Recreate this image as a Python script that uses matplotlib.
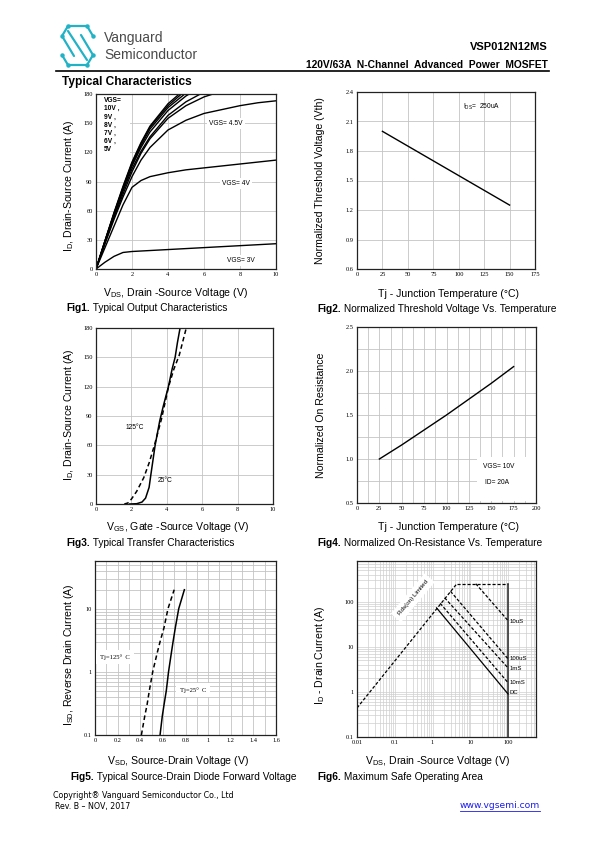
import matplotlib
matplotlib.use("Agg")
import matplotlib.pyplot as plt
from matplotlib.patches import Rectangle
from matplotlib.ticker import FixedLocator, FixedFormatter, LogLocator, NullFormatter

plt.rcParams["font.family"] = ["Liberation Sans", "DejaVu Sans"]
plt.rcParams["mathtext.fontset"] = "custom"
plt.rcParams["mathtext.rm"] = "Liberation Sans"
plt.rcParams["mathtext.default"] = "regular"

W, H = 595, 842

# ---- Fig1: output characteristics ----
vds_1 = [0, 0.5, 1, 1.5, 2, 2.5, 3, 4, 5, 6, 7, 8, 9, 10]
id_vgs = {
    "10V": [0, 29, 58, 85, 110, 130, 147, 170, 186, 198, 207, 214, 220, 225],
    "9V": [0, 29, 57, 84, 109, 129, 146, 168, 184, 196, 205, 212, 218, 223],
    "8V": [0, 29, 57, 83, 108, 127, 144, 166, 181, 192, 200, 207, 212, 216],
    "7V": [0, 28, 56, 82, 106, 125, 141, 163, 178, 189, 197, 203, 208, 212],
    "6V": [0, 28, 55, 80, 103, 121, 136, 158, 172, 182, 189, 195, 200, 204],
    "5V": [0, 27, 53, 77, 100, 119, 134, 155, 168, 177, 183, 188, 192, 195],
    "4.5V": [0, 26, 51, 74, 95, 112, 125, 143, 153, 160, 164, 168, 171, 173],
    "4V": [0, 22, 44, 66, 84, 91, 95, 99, 102, 104, 106, 108, 110, 112],
    "3V": [0, 7, 13, 17, 18, 18.5, 19, 20, 21, 22, 23, 24, 25, 26],
}

# ---- Fig2: threshold voltage vs temperature ----
tj_2 = [25, 150]
vth_2 = [2.0, 1.25]

# ---- Fig3: transfer characteristics ----
vgs_25 = [1.9, 2.3, 2.6, 2.8, 3.0, 3.1, 3.34, 3.6, 3.8, 4.09, 4.3, 4.47, 4.6, 4.75]
id_25 = [0, 0.3, 2, 6, 17, 30, 60, 85, 100, 120, 138, 150, 165, 180]
vgs_125 = [1.6, 1.8, 2.0, 2.3, 2.7, 3.0, 3.3, 3.7, 4.1, 4.4, 4.7, 4.9, 5.1]
id_125 = [0, 1, 5, 13, 27, 42, 60, 87, 120, 138, 152, 166, 180]

# ---- Fig4: on-resistance vs temperature ----
tj_4 = [25, 50, 75, 100, 125, 150, 175]
ron_4 = [1.0, 1.16, 1.33, 1.5, 1.68, 1.86, 2.05]

# ---- Fig5: body diode forward voltage ----
isd_5 = [0.1, 0.2, 0.3, 0.5, 1, 2, 3, 5, 10, 20]
vsd_125 = [0.41, 0.44, 0.46, 0.48, 0.51, 0.55, 0.575, 0.61, 0.645, 0.70]
vsd_25 = [0.575, 0.595, 0.61, 0.63, 0.65, 0.675, 0.69, 0.71, 0.74, 0.79]

# ---- Fig6: safe operating area ----
rds_v = [0.01, 4.4]
rds_i = [0.44, 250]
lim_v = [4.4, 100]
lim_i = [250, 250]
soa_lines = {
    "10uS": ([14, 100], [250, 38]),
    "100uS": ([3.0, 100], [170, 5.4]),
    "1mS": ([2.1, 100], [122, 3.4]),
    "10mS": ([1.6, 100], [92, 1.6]),
    "DC": ([1.28, 100], [73, 0.9]),
}
soa_label_y = {"10uS": 37, "100uS": 5.5, "1mS": 3.3, "10mS": 1.6, "DC": 0.95}

GRID = "#c4c4c4"


def box(x0, y0, x1, y1):
    return [x0 / W, 1 - y1 / H, (x1 - x0) / W, (y1 - y0) / H]


def style_axes(ax, xt, yt, xl, yl):
    ax.set_xticks(xt)
    ax.set_yticks(yt)
    ax.set_xticklabels(xl, family="Liberation Serif", fontsize=4.6)
    ax.set_yticklabels(yl, family="Liberation Serif", fontsize=4.6)
    ax.tick_params(length=0, pad=2.5)
    ax.grid(True, color=GRID, lw=0.6)
    ax.set_axisbelow(True)
    for s in ax.spines.values():
        s.set_color("#222222")
        s.set_linewidth(0.9)


fig = plt.figure(figsize=(W / 100, H / 100), dpi=100)
page = fig.add_axes([0, 0, 1, 1])
page.set_xlim(0, W)
page.set_ylim(H, 0)
page.axis("off")

# header logo
teal = "#22b2c6"
logo_paths = [
    [(93, 36), (87, 26), (68, 26), (62, 36), (74, 56)],
    [(62, 55), (68, 65), (87, 65), (93, 55), (81, 35)],
    [(68, 31), (87, 60)],
]
for p in logo_paths:
    page.plot([q[0] for q in p], [q[1] for q in p], color=teal, lw=1.6, solid_capstyle="round")
for q in [(68, 26), (87, 26), (62, 36), (93, 36), (62, 55), (93, 55), (68, 65), (87, 65)]:
    page.plot(q[0], q[1], "o", color=teal, ms=2.2)
page.text(104, 38, "Vanguard", fontsize=10, color="#4a4a4a", va="center")
page.text(104, 55, "Semiconductor", fontsize=10, color="#4a4a4a", va="center")
page.text(548, 47, "VSP012N12MS", fontsize=8, weight="bold", ha="right", va="center")
page.text(548, 65, "120V/63A  N-Channel  Advanced  Power  MOSFET", fontsize=7.4,
          weight="bold", ha="right", va="center")
page.plot([56, 549], [70.5, 70.5], color="black", lw=1.2)
page.text(62, 82, "Typical Characteristics", fontsize=8.6, weight="bold", va="center")


def caption(x, y, num, rest):
    t = page.text(x, y, num, fontsize=7.3, weight="bold", va="center")
    page.annotate(rest, xy=(1, 0.5), xycoords=t, fontsize=7.3, va="center", ha="left")


def label(x, y, s, rot=0):
    page.text(x, y, s, fontsize=7.6, ha="center", va="center", rotation=rot)


# ---------- Fig1 ----------
ax1 = fig.add_axes(box(96, 94, 276, 269))
for k, v in id_vgs.items():
    ax1.plot(vds_1, v, color="black", lw=1.0)
ax1.set_xlim(0, 10)
ax1.set_ylim(0, 180)
style_axes(ax1, range(0, 11, 2), range(0, 181, 30),
           [str(x) for x in range(0, 11, 2)], [str(y) for y in range(0, 181, 30)])
ax1.add_patch(Rectangle((0.05, 113), 1.85, 66.5, facecolor="white", edgecolor="none", zorder=1))
ax1.text(0.45, 177, "VGS=\n10V ,\n9V ,\n8V ,\n7V ,\n6V ,\n5V", fontsize=4.8, weight="bold",
         va="top", linespacing=1.25, zorder=3)
wb = dict(facecolor="white", edgecolor="none", pad=1.5)
ax1.text(6.3, 150, "VGS= 4.5V", fontsize=4.8, va="center", bbox=wb)
ax1.text(7.0, 88, "VGS= 4V", fontsize=4.8, va="center", bbox=wb)
ax1.text(7.3, 9, "VGS= 3V", fontsize=4.8, va="center", bbox=wb)
label(176, 293, r"V$_{DS}$, Drain -Source Voltage (V)")
label(69, 186, r"I$_{D}$, Drain-Source Current (A)", 90)
caption(66, 308, "Fig1.", " Typical Output Characteristics")

# ---------- Fig2 ----------
ax2 = fig.add_axes(box(357, 92, 535, 269))
ax2.plot(tj_2, vth_2, color="black", lw=1.0)
ax2.set_xlim(0, 175)
ax2.set_ylim(0.6, 2.4)
yt2 = [0.6, 0.9, 1.2, 1.5, 1.8, 2.1, 2.4]
style_axes(ax2, range(0, 176, 25), yt2, [str(x) for x in range(0, 176, 25)],
           [f"{y:.1f}" for y in yt2])
ax2.text(104, 2.25, r"I$_{DS}$=  250uA", fontsize=4.8, va="center")
label(449, 294, "Tj - Junction Temperature (°C)")
label(320, 181, "Normalized Threshold Voltage (Vth)", 90)
caption(317, 309, "Fig2.", " Normalized Threshold Voltage Vs. Temperature")

# ---------- Fig3 ----------
ax3 = fig.add_axes(box(96, 328, 273, 504))
ax3.plot(vgs_25, id_25, color="black", lw=1.1)
ax3.plot(vgs_125, id_125, color="black", lw=1.1, ls=(0, (3, 2)))
ax3.set_xlim(0, 10)
ax3.set_ylim(0, 180)
style_axes(ax3, range(0, 11, 2), range(0, 181, 30),
           [str(x) for x in range(0, 11, 2)], [str(y) for y in range(0, 181, 30)])
ax3.text(1.65, 78, "125°C", fontsize=4.8, va="center")
ax3.text(3.5, 24, "25°C", fontsize=4.8, va="center")
label(178, 527, r"V$_{GS}$, Gate -Source Voltage (V)")
label(69, 415, r"I$_{D}$, Drain-Source Current (A)", 90)
caption(66, 543, "Fig3.", " Typical Transfer Characteristics")

# ---------- Fig4 ----------
ax4 = fig.add_axes(box(357, 327, 536, 503))
ax4.plot(tj_4, ron_4, color="black", lw=1.0)
ax4.set_xlim(0, 200)
ax4.set_ylim(0.5, 2.5)
yt4 = [0.5, 1.0, 1.5, 2.0, 2.5]
style_axes(ax4, range(0, 201, 25), yt4, [str(x) for x in range(0, 201, 25)],
           [f"{y:.1f}" for y in yt4])
ax4.xaxis.set_minor_locator(FixedLocator([12.5 + 25 * i for i in range(8)]))
ax4.yaxis.set_minor_locator(FixedLocator([0.75, 1.25, 1.75, 2.25]))
ax4.grid(True, which="minor", color=GRID, lw=0.6)
ax4.tick_params(which="minor", length=0)
ax4.add_patch(Rectangle((134, 0.52), 65.5, 0.5, facecolor="white", edgecolor="none", zorder=1))
ax4.text(141, 0.91, "VGS= 10V", fontsize=4.8, va="center")
ax4.text(143, 0.73, "ID= 20A", fontsize=4.8, va="center")
label(449, 527, "Tj - Junction Temperature (°C)")
label(321, 415, "Normalized On Resistance", 90)
caption(317, 543, "Fig4.", " Normalized On-Resistance Vs. Temperature")

# ---------- Fig5 ----------
ax5 = fig.add_axes(box(95, 561, 276, 735))
ax5.plot(vsd_25, isd_5, color="black", lw=1.1)
ax5.plot(vsd_125, isd_5, color="black", lw=1.1, ls=(0, (3, 2)))
ax5.set_yscale("log")
ax5.set_xlim(0, 1.6)
ax5.set_ylim(0.1, 57)
xt5 = [0, 0.2, 0.4, 0.6, 0.8, 1.0, 1.2, 1.4, 1.6]
style_axes(ax5, xt5, [0.1, 1, 10], ["0", "0.2", "0.4", "0.6", "0.8", "1", "1.2", "1.4", "1.6"],
           ["0.1", "1", "10"])
ax5.xaxis.set_minor_locator(FixedLocator([0.1 + 0.2 * i for i in range(8)]))
ax5.yaxis.set_minor_locator(LogLocator(base=10, subs=range(2, 10)))
ax5.yaxis.set_minor_formatter(NullFormatter())
ax5.grid(True, which="minor", color=GRID, lw=0.6)
ax5.tick_params(which="minor", length=0)
ax5.text(0.045, 1.73, "Tj=125°  C", fontsize=4.8, family="Liberation Serif", va="center",
         bbox=dict(facecolor="white", edgecolor="none", pad=3))
ax5.text(0.75, 0.52, "Tj=25°  C", fontsize=4.8, family="Liberation Serif", va="center",
         bbox=dict(facecolor="white", edgecolor="none", pad=3))
label(178, 761, r"V$_{SD}$, Source-Drain Voltage (V)")
label(69, 655, r"I$_{SD}$, Reverse Drain Current (A)", 90)
caption(70, 777, "Fig5.", " Typical Source-Drain Diode Forward Voltage")

# ---------- Fig6 ----------
ax6 = fig.add_axes(box(357, 561, 536, 737))
ax6.set_xscale("log")
ax6.set_yscale("log")
ax6.set_xlim(0.01, 550)
ax6.set_ylim(0.1, 800)
dash = (0, (2.5, 1.5))
ax6.plot(rds_v, rds_i, color="black", lw=0.9, ls=dash)
ax6.plot(lim_v, lim_i, color="black", lw=0.9, ls=dash)
ax6.plot([100, 100], [0.1, 250], color="#333333", lw=1.2)
for k, (xv, yv) in soa_lines.items():
    ax6.plot(xv, yv, color="black", lw=0.9, ls="-" if k == "DC" else dash)
    ax6.text(112, soa_label_y[k], k, fontsize=4.3, va="center")
style_axes(ax6, [0.01, 0.1, 1, 10, 100], [0.1, 1, 10, 100],
           ["0.01", "0.1", "1", "10", "100"], ["0.1", "1", "10", "100"])
for a in (ax6.xaxis, ax6.yaxis):
    a.set_minor_locator(LogLocator(base=10, subs=range(2, 10), numticks=20))
    a.set_minor_formatter(NullFormatter())
ax6.grid(True, which="both", color="#cfcfcf", lw=0.5)
ax6.tick_params(which="minor", length=0)
ax6.text(0.3, 122, r"Rds(on) Limited", fontsize=4.5, rotation=50, ha="center", va="center",
         bbox=dict(facecolor="white", edgecolor="none", pad=3))
label(438, 761, r"V$_{DS}$, Drain -Source Voltage (V)")
label(320, 655, r"I$_{D}$ - Drain Current (A)", 90)
caption(317, 777, "Fig6.", " Maximum Safe Operating Area")

# footer
page.text(53, 795, "Copyright® Vanguard Semiconductor Co., Ltd", fontsize=5.7,
          family="DejaVu Sans", va="center")
page.text(55, 806, "Rev. B – NOV, 2017", fontsize=5.7, family="DejaVu Sans", va="center")
page.text(540, 806, "www.vgsemi.com", fontsize=6.6, family="DejaVu Sans", va="center",
          ha="right", color="#1a1aee")
page.plot([460, 540], [810.5, 810.5], color="#1a1aee", lw=0.6)

fig.savefig("out.png", dpi=100)
